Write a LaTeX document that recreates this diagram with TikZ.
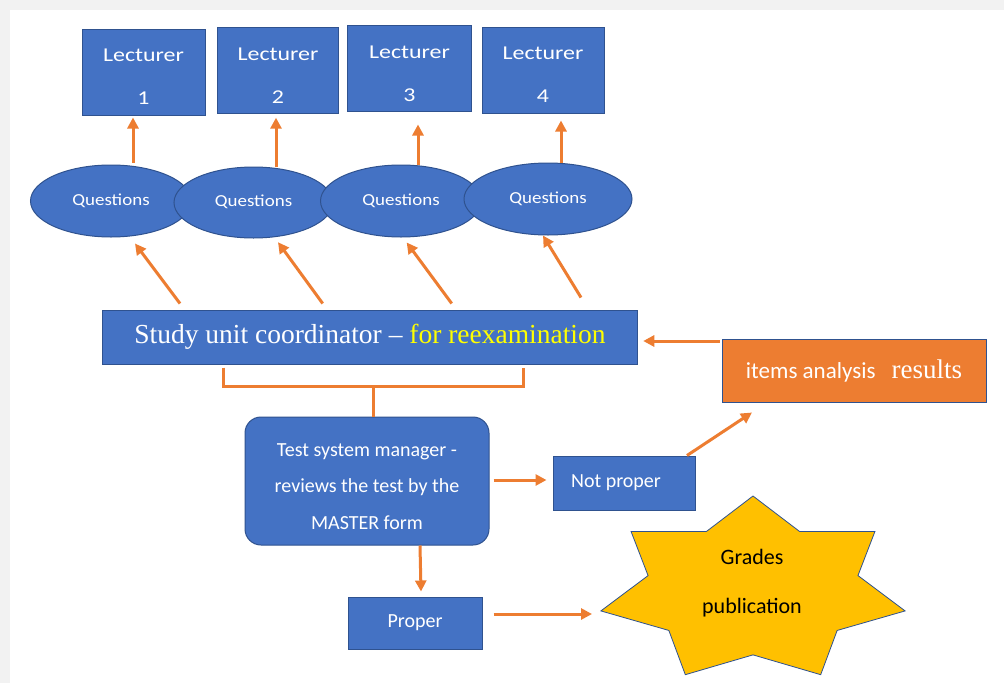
\documentclass[tikz,border=0pt]{standalone}
\usepackage{fontspec}
\setmainfont{Carlito}
\newfontfamily\sansfnt{Carlito}
\newfontfamily\lecfnt[FakeStretch=1.22]{Carlito}
\newfontfamily\qfnt[FakeStretch=1.13]{Carlito}
\newfontfamily\serfnt{Liberation Serif}
\usetikzlibrary{shapes.geometric,arrows.meta}
\definecolor{boxblue}{HTML}{4472C4}
\definecolor{edgeblue}{HTML}{2F528F}
\definecolor{arrorange}{HTML}{ED7D31}
\definecolor{stargold}{HTML}{FFC000}
\definecolor{bggray}{HTML}{F2F2F2}
\definecolor{hiyellow}{HTML}{FFFF00}
\begin{document}
\begin{tikzpicture}[x=1pt,y=-1pt,
  bluebox/.style={draw=edgeblue, line width=1pt, fill=boxblue, text=white, inner sep=0pt},
  lecbox/.style={bluebox, minimum width=123pt, minimum height=86pt, align=center,
     font={\lecfnt\fontsize{19.6}{43}\selectfont}},
  qell/.style={ellipse, bluebox, font={\qfnt\fontsize{16.8}{20}\selectfont}},
  arr/.style={draw=arrorange, line width=3pt, -{Triangle[length=11pt,width=11pt]}},
  conn/.style={draw=arrorange, line width=3pt}]
\useasboundingbox (0,0) rectangle (1004,683);
\fill[bggray] (0,0) rectangle (1004,683);
\fill[white] (10,10) rectangle (1004,683);

% lecturers
\node[lecbox] (l1) at (143.5,72) {\rule{0pt}{22pt}Lecturer\\1};
\node[lecbox, minimum width=120.5pt] (l2) at (278,70.5) {\rule{0pt}{22pt}Lecturer\\2};
\node[lecbox, minimum width=123.6pt] (l3) at (409.5,68.7) {\rule{0pt}{22pt}Lecturer\\3};
\node[lecbox, minimum width=122pt] (l4) at (543,70.3) {\rule{0pt}{22pt}Lecturer\\4};

% questions
\node[qell, minimum width=161pt, minimum height=72pt] (q1) at (111,201) {\raisebox{3pt}{Questions}};
\node[qell, minimum width=159pt, minimum height=71pt] (q2) at (253.5,202.5) {\raisebox{4pt}{Questions}};
\node[qell, minimum width=161pt, minimum height=72pt] (q3) at (401,201) {\raisebox{3pt}{Questions}};
\node[qell, minimum width=168pt, minimum height=72pt] (q4) at (548,199) {\raisebox{3pt}{Questions}};

% coordinator
\node[bluebox, minimum width=535.5pt, minimum height=54pt,
      font={\serfnt\fontsize{27.5}{32}\selectfont}] (coord) at (370,337)
      {Study unit coordinator \textendash\ \textcolor{hiyellow}{for reexamination}};

% test system manager
\node[bluebox, rounded corners=16pt, minimum width=244pt, minimum height=128pt, align=center,
      font={\sansfnt\fontsize{20}{36.5}\selectfont}] (tsm) at (367,481)
      {\rule{0pt}{24pt}Test system manager -\\reviews the test by the\\MASTER form};

\node[bluebox, minimum width=142pt, minimum height=54pt,
      font={\sansfnt\fontsize{20}{24}\selectfont}] (np) at (624,483)
      {\raisebox{4pt}{Not proper}\hspace*{16pt}};

\node[bluebox, fill=arrorange, minimum width=264pt, minimum height=63pt] (items) at (854,370.5)
      {{\sansfnt\fontsize{23}{28}\selectfont items analysis}\hspace{16pt}{\serfnt\fontsize{27}{30}\selectfont results}};

\node[bluebox, minimum width=134pt, minimum height=52pt,
      font={\sansfnt\fontsize{20}{24}\selectfont}] (proper) at (415,623) {\raisebox{2pt}{Proper}};

% star
\filldraw[fill=stargold, draw=edgeblue, line width=0.8pt] (753,496)
  \foreach \k in {1,...,13}{
    -- ({753+156*(mod(\k,2)==0 ? 1 : 0.69)*cos(90-25.7143*\k)},{590-94*(mod(\k,2)==0 ? 1 : 0.69)*sin(90-25.7143*\k)})
  } -- cycle;
\coordinate (starleft) at (601,611);
\node[align=center, text=black, font={\sansfnt\fontsize{22}{49}\selectfont}] (grades) at (752,583.5)
      {Grades\\publication};

% arrows questions -> lecturers
\draw[arr] ([xshift=22pt,yshift=2pt]q1.north) -- ([xshift=-10.5pt,yshift=-2pt]l1.south);
\draw[arr] ([xshift=22.5pt]q2.north) -- ([xshift=-2pt,yshift=-3.7pt]l2.south);
\draw[arr] ([xshift=17pt]q3.north) -- ([xshift=8.5pt,yshift=-12.3pt]l3.south);
\draw[arr] ([xshift=13pt]q4.north) -- ([xshift=18pt,yshift=-6.7pt]l4.south);

% coordinator -> questions
\draw[arr] ([xshift=-190pt,yshift=6pt]coord.north) -- ([xshift=24pt,yshift=-6pt]q1.south);
\draw[arr] ([xshift=-47.3pt,yshift=6pt]coord.north) -- ([xshift=24.5pt,yshift=-3.7pt]q2.south);
\draw[arr] ([xshift=81.7pt,yshift=6pt]coord.north) -- ([xshift=5.7pt,yshift=-5pt]q3.south);
\draw[arr] ([xshift=211pt,yshift=12pt]coord.north) -- ([xshift=-5pt]q4.south);

% bracket
\draw[conn] ([xshift=-147pt,yshift=-3pt]coord.south) -- ([xshift=-147pt,yshift=-22pt]coord.south)
   -- ([xshift=153pt,yshift=-22pt]coord.south) -- ([xshift=153pt,yshift=-3pt]coord.south);
\draw[conn] ([xshift=6pt]tsm.north) -- ([xshift=3pt,yshift=-22pt]coord.south);

% other arrows
\draw[arr] ([xshift=4pt,yshift=1pt]tsm.east) -- ([xshift=-6pt,yshift=3pt]np.west);
\draw[arr] ([xshift=63pt]np.north) -- ([xshift=-102pt,yshift=-10pt]items.south);
\draw[arr] ([xshift=-2pt,yshift=29.5pt]items.west) -- ([xshift=5pt,yshift=-4pt]coord.east);
\draw[arr] ([xshift=53pt]tsm.south) -- ([xshift=6pt,yshift=5pt]proper.north);
\draw[arr] ([xshift=11pt,yshift=9pt]proper.east) -- ([xshift=-9pt,yshift=-3pt]starleft);
\end{tikzpicture}
\end{document}
